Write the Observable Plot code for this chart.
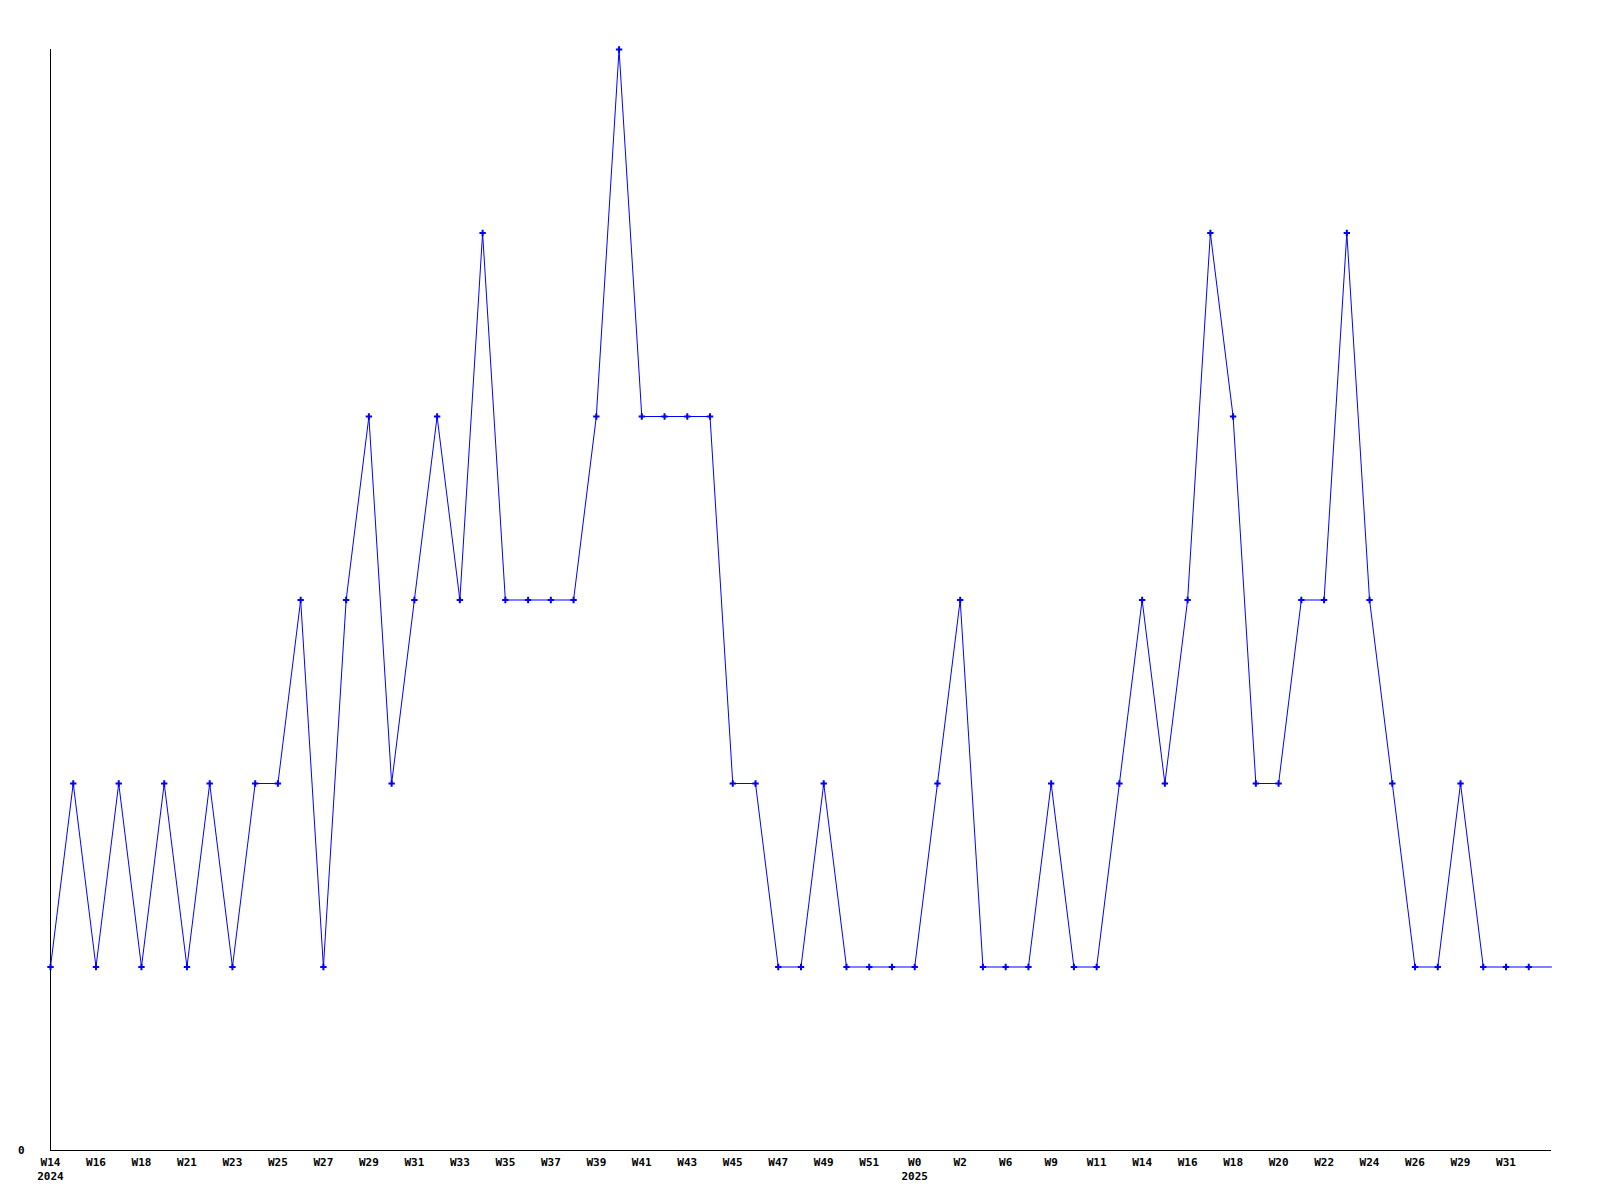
<!DOCTYPE html>
<html>
<head>
<meta charset="utf-8">
<script src="https://cdn.jsdelivr.net/npm/d3@7"></script>
<script src="https://cdn.jsdelivr.net/npm/@observablehq/plot@0.6"></script>
<style>
  html, body { margin: 0; padding: 0; background: #fff; }
  #chart svg { display: block; }
</style>
</head>
<body>
<div id="chart"></div>
<script>
// Weekly counts, one value per week (index 0 = W14 2024)
const values = [
  1, 2, 1, 2, 1, 2, 1, 2, 1, 2,
  2, 3, 1, 3, 4, 2, 3, 4, 3, 5,
  3, 3, 3, 3, 4, 6, 4, 4, 4, 4,
  2, 2, 1, 1, 2, 1, 1, 1, 1, 2,
  3, 1, 1, 1, 2, 1, 1, 2, 3, 2,
  3, 5, 4, 2, 2, 3, 3, 5, 3, 2,
  1, 1, 2, 1, 1, 1, 1
];
// Tick labels shown under every second week
const tickLabels = [
  "W14","W16","W18","W21","W23","W25","W27","W29","W31","W33",
  "W35","W37","W39","W41","W43","W45","W47","W49","W51","W0",
  "W2","W6","W9","W11","W14","W16","W18","W20","W22","W24",
  "W26","W29","W31"
];
const yearLabels = ["2024", "2025"];
const yearAtTick = [0, 19]; // tick slot where each year label appears
const yTickValues = [0];

const data = values.map((v, i) => ({i, v}));
const ticks = tickLabels.map((t, k) => ({i: k * 2, label: t}));
const labelFor = new Map(ticks.map((t, k) => {
  const yi = yearAtTick.indexOf(k);
  return [t.i, yi >= 0 ? t.label + "\n" + yearLabels[yi] : t.label];
}));

const font = "'DejaVu Sans Mono', monospace";
const blue = "#0000ff";

const chart = Plot.plot({
  width: 1600,
  height: 1200,
  marginLeft: 50,
  marginRight: 49,
  marginTop: 49,
  marginBottom: 50,
  style: {fontFamily: font, fontSize: "11px", fontWeight: "bold", color: "#000", background: "#fff"},
  x: {type: "linear", domain: [0, values.length - 1], label: null},
  y: {type: "linear", domain: [0, 6], label: null},
  marks: [
    Plot.axisX(ticks.map(t => t.i), {
      label: null,
      tickSize: 0,
      tickPadding: 5,
      tickFormat: d => labelFor.get(d),
      lineHeight: 1.3,
      fontSize: 11,
      fontWeight: "bold",
      fontFamily: font,
      fill: "#000"
    }),
    Plot.axisY(yTickValues, {
      label: null,
      tickSize: 0,
      tickPadding: 26,
      tickFormat: d => String(d),
      fontSize: 11,
      fontWeight: "bold",
      fontFamily: font,
      fill: "#000"
    }),
    Plot.ruleX([0], {stroke: "#000", strokeWidth: 1}),
    Plot.ruleY([0], {stroke: "#000", strokeWidth: 1}),
    Plot.line(data, {x: "i", y: "v", stroke: blue, strokeWidth: 1}),
    Plot.dot(data.slice(0, -1), {x: "i", y: "v", symbol: "plus", r: 2.2, fill: "none", stroke: blue, strokeWidth: 2})
  ]
});
document.getElementById("chart").appendChild(chart);
</script>
</body>
</html>
